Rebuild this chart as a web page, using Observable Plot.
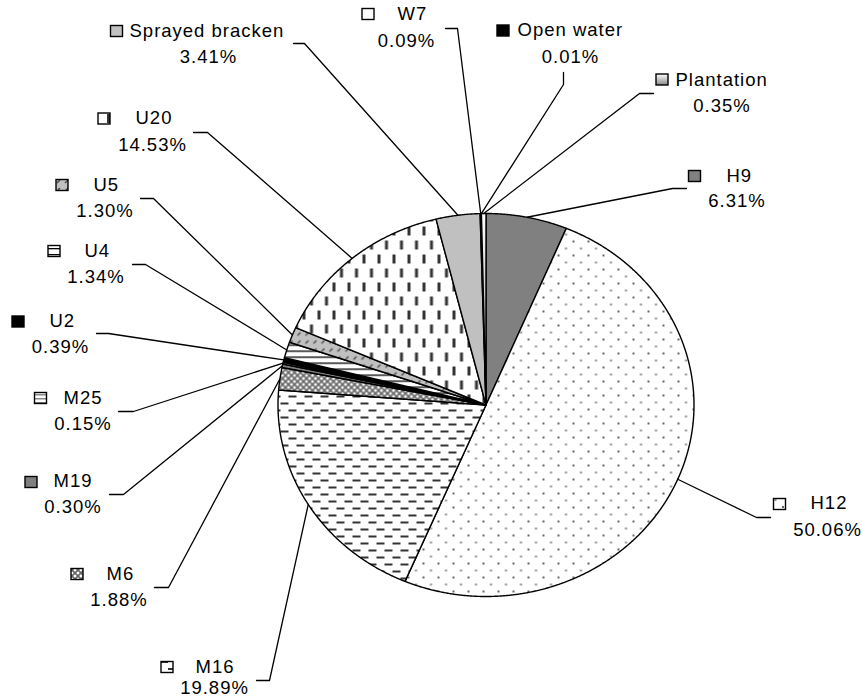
<!DOCTYPE html>
<html><head><meta charset="utf-8">
<script src="https://cdn.jsdelivr.net/npm/d3@7"></script>
<script src="https://cdn.jsdelivr.net/npm/@observablehq/plot@0.6"></script>
<style>
html,body{margin:0;padding:0;background:#fff;}
</style>
</head><body>
<svg width="0" height="0" style="position:absolute">
<defs>
  <pattern id="pH12" patternUnits="userSpaceOnUse" width="15" height="14">
    <rect width="15" height="14" fill="#fff"/>
    <rect x="2" y="2" width="2" height="2" fill="#666"/>
    <rect x="9.5" y="9" width="2" height="2" fill="#888"/>
  </pattern>
  <pattern id="pM16" patternUnits="userSpaceOnUse" width="16" height="14">
    <rect width="16" height="14" fill="#fff"/>
    <rect x="0" y="3" width="8" height="2" fill="#333"/>
    <rect x="8" y="10" width="8" height="2" fill="#333"/>
  </pattern>
  <pattern id="pU20" patternUnits="userSpaceOnUse" width="15" height="28">
    <rect width="15" height="28" fill="#fff"/>
    <rect x="2" y="2" width="3" height="9" fill="#333"/>
    <rect x="9.5" y="16" width="3" height="9" fill="#333"/>
  </pattern>
  <pattern id="pM6" patternUnits="userSpaceOnUse" width="6" height="6">
    <rect width="6" height="6" fill="#fff"/>
    <path d="M0,0L6,6M6,0L0,6" stroke="#666" stroke-width="1.6"/>
  </pattern>
  <pattern id="pU5" patternUnits="userSpaceOnUse" width="8" height="8">
    <rect width="8" height="8" fill="#c0c0c0"/>
    <path d="M1,7L4,4" stroke="#444" stroke-width="1.2"/>
  </pattern>
  <pattern id="pM25" patternUnits="userSpaceOnUse" width="4" height="4">
    <rect width="4" height="4" fill="#fff"/>
    <rect y="2" width="4" height="1.5" fill="#888"/>
  </pattern>
  <pattern id="pU4" patternUnits="userSpaceOnUse" width="8" height="6">
    <rect width="8" height="6" fill="#fff"/>
    <rect y="2" width="8" height="1.3" fill="#000"/>
  </pattern>
  <linearGradient id="gPl" x1="0" y1="0" x2="0" y2="1">
    <stop offset="0" stop-color="#fff"/><stop offset="1" stop-color="#888"/>
  </linearGradient>
</defs>
</svg>
<div id="chart"></div>
<script>
// ---- data ----
const categories = ["H9","H12","M16","M6","M19","M25","U2","U4","U5","U20","Sprayed bracken","W7","Open water","Plantation"];
const shares = [6.31,50.06,19.89,1.88,0.30,0.15,0.39,1.34,1.30,14.53,3.41,0.09,0.01,0.35];

// ---- styles ----
const fills = {
  "H9":"#808080","H12":"url(#pH12)","M16":"url(#pM16)","M6":"url(#pM6)","M19":"#808080",
  "M25":"url(#pM25)","U2":"#000000","U4":"url(#pU4)","U5":"url(#pU5)","U20":"url(#pU20)",
  "Sprayed bracken":"#c0c0c0","W7":"#ffffff","Open water":"#000000","Plantation":"url(#gPl)"
};

// ---- layout (pixels) ----
const pie = {cx: 485.5, cy: 404.5, rx: 208, ry: 191.5};
// [markerX, markerY, nameLeft, nameY, pctCenterX, pctY, endX, endY, elbowX, elbowY]
const labelLayout = {
  "H9":[694.5,176,726,176,736.5,201,686,188,672,188],
  "H12":[779.5,504,810,503,827,530,770,517,756,517],
  "M16":[167,667,195,667,214,687.5,256,680,269,680],
  "M6":[77,574,106,574,118.5,600,154,587,168,587],
  "M19":[31,482,53,481,72.5,506.5,109,494,123,494],
  "M25":[40.5,398,63,398,82.5,423.5,118,411,133,411],
  "U2":[18,321.5,49,321,60,346.5,96,333,108,333],
  "U4":[54,251,84,251,95.5,276.5,132,264,145,264],
  "U5":[62,185,93,185,104.5,210.5,140,198,153,198],
  "U20":[104,118.5,135,118,152,145,193,132,207,132],
  "Sprayed bracken":[116.5,31,129,31,208,56.5,293,43,304,43],
  "W7":[368,14,397,14,406,41,445,28,457,28],
  "Open water":[503,30.5,517,30,570,56.5,563,72,563,84],
  "Plantation":[662,79.5,675,80,721.5,106,653,93,639,93]
};

// ---- geometry from data ----
const total = d3.sum(shares);
const ptAt = a => ({x: pie.cx + pie.rx * Math.sin(a), y: pie.cy - pie.ry * Math.cos(a)});
let cum = 0;
const slicePts = [];
const leaderPts = [];
const labels = [];
categories.forEach((name, i) => {
  const a0 = cum / total * 2 * Math.PI;
  cum += shares[i];
  const a1 = cum / total * 2 * Math.PI;
  const n = Math.max(2, Math.ceil((a1 - a0) / 0.005));
  slicePts.push({name, fill: fills[name], x: pie.cx, y: pie.cy});
  for (let k = 0; k <= n; k++) {
    const p = ptAt(a0 + (a1 - a0) * k / n);
    slicePts.push({name, fill: fills[name], x: p.x, y: p.y});
  }
  slicePts.push({name, fill: fills[name], x: pie.cx, y: pie.cy});
  const L = labelLayout[name];
  const m = ptAt((a0 + a1) / 2);
  leaderPts.push({name, x: m.x, y: m.y});
  leaderPts.push({name, x: L[8], y: L[9]});
  leaderPts.push({name, x: L[6], y: L[7]});
  labels.push({name, fill: fills[name], pct: shares[i].toFixed(2) + "%",
    mx: L[0], my: L[1], nx: L[2], ny: L[3], px: L[4], py: L[5]});
});

const font = "'Liberation Sans', Arial, Helvetica, sans-serif";
const chart = Plot.plot({
  width: 863, height: 698,
  margin: 0,
  x: {domain: [0, 863], range: [0, 863], axis: null},
  y: {domain: [0, 698], range: [0, 698], axis: null},
  color: {type: "identity"},
  style: {fontFamily: font, letterSpacing: "1px", background: "#fff", color: "#000"},
  marks: [
    Plot.line(slicePts, {x: "x", y: "y", z: "name", fill: "fill", stroke: "#000", strokeWidth: 1.4, strokeLinejoin: "round", curve: "linear"}),
    Plot.line(leaderPts, {x: "x", y: "y", z: "name", stroke: "#000", strokeWidth: 1.3, curve: "linear"}),
    Plot.rect(labels, {x1: d => d.mx - 6, x2: d => d.mx + 6, y1: d => d.my - 5.5, y2: d => d.my + 5.5, fill: "fill", stroke: "#000", strokeWidth: 1.4, inset: 0}),
    Plot.text(labels, {x: "nx", y: "ny", text: "name", textAnchor: "start", fontSize: 18.5, fontFamily: font, fill: "#000"}),
    Plot.text(labels, {x: "px", y: "py", text: "pct", textAnchor: "middle", fontSize: 18.5, fontFamily: font, fill: "#000"})
  ]
});
document.getElementById("chart").appendChild(chart);
</script>
</body></html>
